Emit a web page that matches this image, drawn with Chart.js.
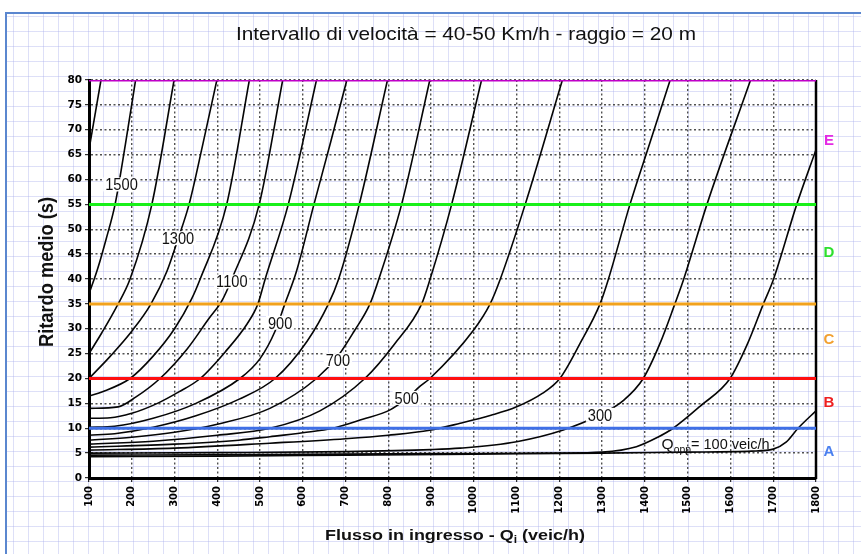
<!DOCTYPE html>
<html>
<head>
<meta charset="utf-8">
<script src="https://cdn.jsdelivr.net/npm/chart.js@4.4.1/dist/chart.umd.min.js"></script>
<style>
html,body{margin:0;padding:0;background:#fff;}
#wrap{position:relative;width:861px;height:554px;overflow:hidden;background:#fff;}
#paper{position:absolute;left:5px;top:12px;right:-4px;bottom:-4px;
  background-color:#fff;
  background-image:linear-gradient(to right, rgba(175,180,238,0.42) 1px, transparent 1px),
                   linear-gradient(to bottom, rgba(175,180,238,0.42) 1px, transparent 1px);
  background-size:15px 15px;background-position:6px 2px;
  border-top:2px solid #5b87cf;border-left:2px solid #5b87cf;}
canvas{position:absolute;left:0;top:0;}
</style>
</head>
<body>
<div id="wrap"><div id="paper"></div><canvas id="c" width="861" height="554"></canvas></div>
<script>
// ---------- data ----------
const xTickValues = [100,200,300,400,500,600,700,800,900,1000,1100,1200,1300,1400,1500,1600,1700,1800];
const yTickValues = [0,5,10,15,20,25,30,35,40,45,50,55,60,65,70,75,80];

// level-of-service thresholds (s) and band letters
const levelValues  = [80, 55, 35, 20, 10];
const levelLetters = ['E', 'D', 'C', 'B', 'A'];
const bandMids     = [67.5, 45, 27.5, 15, 5];

// opposing flows (veic/h)
const qOppValues = [100,200,300,400,500,600,700,800,900,1000,1100,1200,1300,1400,1500,1600];

// curves: [Qi (veic/h), ritardo medio (s)]
const curve100  = [[100,4.3],[400,4.4],[700,4.6],[1000,4.8],[1300,5.0],[1500,5.2],[1650,5.4],[1700,5.8],[1730,7.2],[1758,10],[1800,13.5]];
const curve200  = [[100,4.6],[500,4.7],[900,4.9],[1200,5.0],[1300,5.2],[1380,6.3],[1430,8.2],[1466,10],[1530,14.5],[1599,20],[1640,27],[1677,35],[1700,39.8],[1755,55],[1800,66]];
const curve300  = [[100,5.0],[400,5.1],[700,5.3],[900,5.7],[968,6.0],[1100,7.3],[1209,9.65],[1295,12.7],[1350,15.6],[1396,20],[1435,27],[1470,35],[1490,39.8],[1545,55],[1647,80]];
const curve400  = [[100,5.6],[300,6.0],[523,7.0],[700,7.9],[800,8.6],[897,9.6],[968,11],[1040,12.6],[1100,14.3],[1160,17],[1201,20],[1248,27],[1295,35],[1314,39.8],[1365,55],[1412,67.5],[1459,80]];
const curve500  = [[100,6.2],[300,6.8],[450,7.6],[523,8.3],[600,9.1],[671,10],[740,11.8],[804,13.7],[843,16],[875,18.5],[897,20],[999,29.7],[1038,35],[1061,39.8],[1120,55],[1207,80]];
const curve600  = [[100,6.8],[250,7.4],[400,8.6],[523,10],[640,13.5],[745,20],[815,27],[878,35],[897,39.8],[948,55],[1018,80]];
const curve700  = [[100,7.6],[200,8.2],[300,9.2],[400,10.8],[523,14],[632,20],[682,24.5],[720,29.5],[757,35],[777,39.8],[831,55],[897,80]];
const curve800  = [[100,8.6],[160,8.9],[250,10.2],[350,12.5],[450,15.8],[535,20],[610,27.5],[660,35],[683,39.8],[732,55],[798,80]];
const curve900  = [[100,10.2],[160,10.4],[250,12],[350,15],[453,20],[500,24],[535,29.5],[558,35],[585,41.5],[626,55],[665,67.5],[703,80]];
const curve1000 = [[100,12],[150,12.1],[200,13],[260,15],[310,17.3],[360,20],[420,25.5],[470,31],[495,35],[512,40],[566,55],[632,80]];
const curve1100 = [[100,14],[168,14.3],[210,16.3],[266,20],[330,26],[380,32],[410,35.5],[434,40],[498,55],[553,80]];
const curve1200 = [[100,16.5],[130,17.3],[196,20],[250,24.5],[300,30],[340,36],[360,40],[422,55],[475,80]];
const curve1300 = [[100,20],[150,24.5],[200,29.5],[245,35],[282,41.5],[308,48],[334,55],[366,67],[399,80]];
const curve1400 = [[100,25],[130,29.2],[165,34.5],[196,40],[247,55],[299,80]];
const curve1500 = [[100,37],[120,42],[140,48],[161,55],[185,67],[209,80]];
const curve1600 = [[100,66],[128,80]];

const curves = [curve100,curve200,curve300,curve400,curve500,curve600,curve700,curve800,
                curve900,curve1000,curve1100,curve1200,curve1300,curve1400,curve1500,curve1600];

// curve labels (text and anchor on the curve, data units)
const curveLabelTexts   = ['1500','1300','1100','900','700','500','300'];
const curveLabelAnchors = [[176,59],[308,48.2],[434,39.5],[547,31.2],[682,23.7],[843,16.1],[1295,12.7]];
const qLabelAnchor = [1439, 5.85];

// ---------- styles ----------
const levelColors  = ['#c000c8', '#19f019', '#f2a21c', '#ff1010', '#3f6fe6'];
const letterColors = ['#e42ae4', '#2ee02e', '#f2a030', '#ee2020', '#4a80f0'];
const FAM = '"Liberation Sans", Arial, sans-serif';

// ---------- datasets ----------
const datasets = [];
levelValues.forEach((v, i) => {
  datasets.push({
    data: [{x: xTickValues[0], y: v}, {x: xTickValues[xTickValues.length - 1], y: v}],
    borderColor: levelColors[i], borderWidth: 3, pointRadius: 0, fill: false
  });
});
curves.forEach((c, i) => {
  datasets.push({
    label: 'Qopp ' + qOppValues[i],
    data: c.map(p => ({x: p[0], y: p[1]})),
    borderColor: '#050505', borderWidth: 1.6, pointRadius: 0, fill: false,
    cubicInterpolationMode: 'monotone'
  });
});

// ---------- text helpers ----------
function partsWidth(ctx, parts) {
  let w = 0;
  for (const p of parts) { ctx.font = (p.w || 'normal') + ' ' + p.s + 'px ' + FAM; w += ctx.measureText(p.t).width; }
  return w;
}
function drawParts(ctx, parts, x0, baseY, sx) {
  ctx.save();
  ctx.translate(x0, baseY); ctx.scale(sx, 1);
  ctx.textAlign = 'left'; ctx.textBaseline = 'alphabetic';
  let x = 0;
  for (const p of parts) {
    ctx.font = (p.w || 'normal') + ' ' + p.s + 'px ' + FAM;
    ctx.fillText(p.t, x, p.dy || 0);
    x += ctx.measureText(p.t).width;
  }
  ctx.restore();
}

const decorPlugin = {
  id: 'decor',
  beforeDatasetsDraw(chart) {
    const {ctx, chartArea: a} = chart;
    ctx.save();
    ctx.strokeStyle = '#000'; ctx.lineWidth = 2.5;
    ctx.beginPath(); ctx.moveTo(a.right, a.top); ctx.lineTo(a.right, a.bottom + 1); ctx.stroke();
    ctx.restore();
  },
  afterDraw(chart) {
    const {ctx, scales: {x, y}} = chart;
    ctx.save();
    ctx.fillStyle = '#111';

    // title
    const tParts = [{t: 'Intervallo di velocità = 40-50 Km/h - raggio = 20 m', s: 18.5}];
    const tw = partsWidth(ctx, tParts);
    drawParts(ctx, tParts, 466 - 230, 40, 460 / tw);

    // x axis title with subscript
    const xParts = [{t: 'Flusso in ingresso - Q', s: 15, w: 'bold'}, {t: 'i', s: 10, w: 'bold', dy: 3}, {t: ' (veic/h)', s: 15, w: 'bold'}];
    const xw = partsWidth(ctx, xParts);
    drawParts(ctx, xParts, 455 - 130, 540, 260 / xw);

    // y axis title
    ctx.save();
    ctx.font = 'bold 17px ' + FAM;
    const yt = 'Ritardo medio (s)';
    const yw = ctx.measureText(yt).width;
    ctx.translate(47.5, 272);
    ctx.scale(1.15, 1);
    ctx.rotate(-Math.PI / 2);
    ctx.scale(150 / yw, 1);
    ctx.textAlign = 'center'; ctx.textBaseline = 'middle';
    ctx.fillText(yt, 0, 0);
    ctx.restore();

    // band letters
    ctx.font = 'bold 15px ' + FAM;
    ctx.textAlign = 'center'; ctx.textBaseline = 'middle';
    levelLetters.forEach((L, i) => {
      ctx.fillStyle = letterColors[i];
      ctx.fillText(L, 829, y.getPixelForValue(bandMids[i]) - 1);
    });

    // curve labels
    curveLabelTexts.forEach((t, i) => {
      const px = x.getPixelForValue(curveLabelAnchors[i][0]);
      const py = y.getPixelForValue(curveLabelAnchors[i][1]);
      ctx.font = '17px ' + FAM;
      const w = ctx.measureText(t).width * 0.86;
      ctx.fillStyle = '#fff';
      ctx.fillRect(px - w / 2 - 2, py - 7, w + 4, 14);
      ctx.fillStyle = '#111';
      drawParts(ctx, [{t: t, s: 17}], px - w / 2, py + 6, 0.86);
    });

    // Qopp label
    ctx.fillStyle = '#111';
    const qParts = [{t: 'Q', s: 15}, {t: 'opp', s: 10, dy: 4}, {t: '= 100 veic/h', s: 14}];
    const qw = partsWidth(ctx, qParts);
    drawParts(ctx, qParts, x.getPixelForValue(qLabelAnchor[0]), y.getPixelForValue(qLabelAnchor[1]), 108 / qw);
    ctx.restore();
  }
};

new Chart(document.getElementById('c'), {
  type: 'line',
  data: {datasets},
  plugins: [decorPlugin],
  options: {
    responsive: false, animation: false, devicePixelRatio: 1,
    layout: {padding: {left: 0, top: 80, right: 45, bottom: 0}},
    plugins: {legend: {display: false}, tooltip: {enabled: false}, title: {display: false}},
    elements: {line: {tension: 0}},
    scales: {
      x: {
        type: 'linear', min: 100, max: 1800,
        afterBuildTicks: s => { s.ticks = xTickValues.map(v => ({value: v})); },
        afterFit: s => { s.height = 76; },
        ticks: {autoSkip: false, maxRotation: 90, minRotation: 90, padding: 4, color: '#000',
                callback: v => String(v),
                font: {family: '"DejaVu Sans", sans-serif', weight: 'bold', size: 10}},
        grid: {color: '#505050', lineWidth: 1.4, tickLength: 4, tickColor: '#000', tickWidth: 1},
        border: {color: '#000', width: 3, dash: [2, 2.5]}
      },
      y: {
        type: 'linear', min: 0, max: 80,
        afterBuildTicks: s => { s.ticks = yTickValues.map(v => ({value: v})); },
        afterFit: s => { s.width = 89; },
        ticks: {padding: 3, color: '#000', callback: v => String(v),
                font: {family: '"DejaVu Sans", sans-serif', weight: 'bold', size: 10.5}},
        grid: {color: '#505050', lineWidth: 1.4, tickLength: 4, tickColor: '#000', tickWidth: 1},
        border: {color: '#000', width: 3, dash: [2, 2.5]}
      }
    }
  }
});
</script>
</body>
</html>
